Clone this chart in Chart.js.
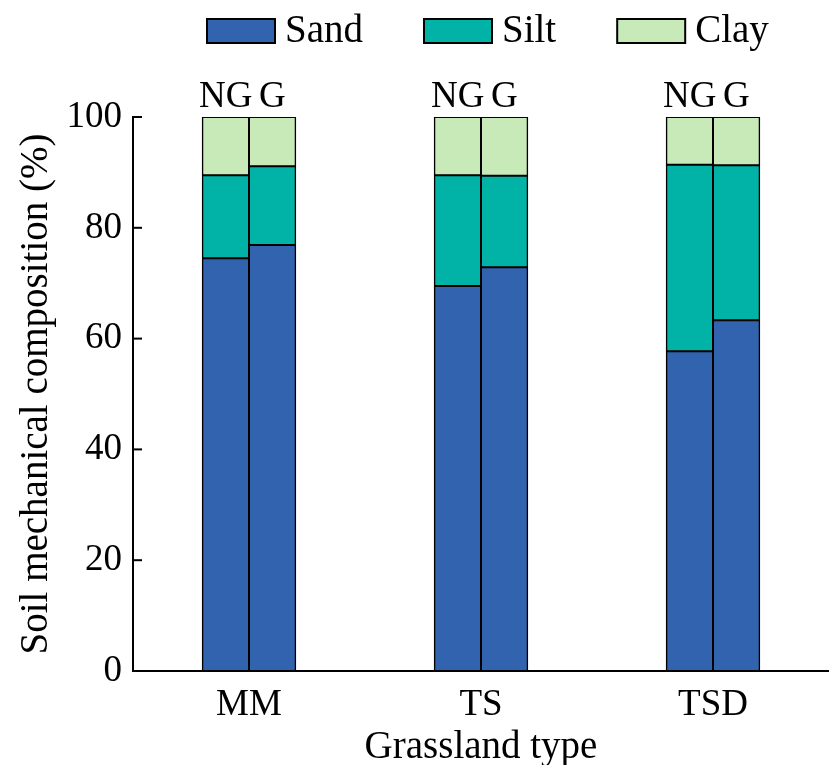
<!DOCTYPE html>
<html>
<head>
<meta charset="utf-8">
<script src="https://cdn.jsdelivr.net/npm/chart.js@4/dist/chart.umd.min.js"></script>
<style>
  html, body { margin: 0; padding: 0; background: #fff; }
  #wrap { width: 829px; height: 765px; position: relative; }
</style>
</head>
<body>
<div id="wrap"><canvas id="soil"></canvas></div>
<script>
// grassland types on the x axis
const grasslandTypes = ["MM", "TS", "TSD"];
// NG = no grazing, G = grazing
const treatments = ["NG", "G"];
const fractions = ["Sand", "Silt", "Clay"];

// percentages
const sandNG = [74.5, 69.5, 57.7];
const siltNG = [15.0, 20.0, 33.7];
const clayNG = [10.5, 10.5, 8.6];

const sandG = [76.9, 72.9, 63.3];
const siltG = [14.2, 16.5, 28.0];
const clayG = [8.9, 10.6, 8.7];

const yTicks = [0, 20, 40, 60, 80, 100];

const fractionColors = ["#3263ae", "#00b3a6", "#c8eab8"];
const FONT = "'Liberation Serif', 'Times New Roman', serif";
const FS = 37;      // tick labels
const FS_BIG = 39;  // titles and legend

const seriesByTreatment = {
    NG: [sandNG, siltNG, clayNG],
    G: [sandG, siltG, clayG],
};

var datasets = [];
treatments.forEach((t) => {
    fractions.forEach((f, i) => {
        datasets.push({
            label: f,
            data: seriesByTreatment[t][i],
            stack: t,
            backgroundColor: fractionColors[i],
            borderColor: "#000",
            borderWidth: 1.5,
            borderSkipped: false,
            inflateAmount: 0.5,
            categoryPercentage: 0.403,
            barPercentage: 1.0,
        });
    });
});

// legend + NG/G labels + inner y ticks
const decorations = {
    id: "decorations",
    afterDraw(chart) {
        const ctx = chart.ctx;
        const y = chart.scales.y;
        const area = chart.chartArea;
        ctx.save();

        // tick marks pointing into the plot
        ctx.strokeStyle = "#000";
        ctx.lineWidth = 2;
        yTicks.forEach((v) => {
            const py = y.getPixelForValue(v);
            ctx.beginPath();
            ctx.moveTo(area.left, py);
            ctx.lineTo(area.left + 9, py);
            ctx.stroke();
        });

        // treatment labels above each stack
        ctx.font = FS + "px " + FONT;
        ctx.fillStyle = "#000";
        ctx.textAlign = "center";
        ctx.textBaseline = "alphabetic";
        chart.data.datasets.forEach((ds, di) => {
            if (ds.label !== "Clay") return;
            const meta = chart.getDatasetMeta(di);
            meta.data.forEach((bar) => {
                ctx.fillText(ds.stack, bar.x, y.getPixelForValue(100) - 10);
            });
        });

        // legend
        ctx.font = FS_BIG + "px " + FONT;
        ctx.textAlign = "left";
        ctx.textBaseline = "middle";
        let lx = 207;
        const ly = 19, bw = 68, bh = 24;
        fractions.forEach((f, i) => {
            ctx.fillStyle = fractionColors[i];
            ctx.fillRect(lx, ly, bw, bh);
            ctx.lineWidth = 2;
            ctx.strokeStyle = "#000";
            ctx.strokeRect(lx, ly, bw, bh);
            ctx.fillStyle = "#000";
            ctx.fillText(f, lx + bw + 10, ly + bh / 2 + 1);
            lx += bw + 10 + ctx.measureText(f).width + 61;
        });
        ctx.restore();
    },
};

new Chart(document.getElementById("soil"), {
    type: "bar",
    data: { labels: grasslandTypes, datasets: datasets },
    options: {
        responsive: true,
        maintainAspectRatio: false,
        animation: false,
        layout: { padding: { top: 117, left: 0, right: 0, bottom: 0 } },
        plugins: {
            legend: { display: false },
            tooltip: { enabled: false },
        },
        scales: {
            x: {
                stacked: true,
                grid: { display: false, drawTicks: false },
                border: { color: "#000", width: 2 },
                ticks: { color: "#000", padding: 12, font: { family: FONT, size: FS } },
                title: {
                    display: true,
                    text: "Grassland type",
                    color: "#000",
                    padding: { top: 0, bottom: 0 },
                    font: { family: FONT, size: FS_BIG, lineHeight: 0.9 },
                },
                afterFit(scale) { scale.height = 94; },
            },
            y: {
                stacked: true,
                min: 0,
                max: 100,
                grid: { display: false, drawTicks: false },
                border: { color: "#000", width: 2 },
                ticks: {
                    stepSize: 20,
                    color: "#000",
                    padding: 11,
                    font: { family: FONT, size: FS },
                },
                title: {
                    display: true,
                    text: "Soil mechanical composition (%)",
                    color: "#000",
                    padding: { top: 13, bottom: 0 },
                    font: { family: FONT, size: FS_BIG },
                },
                afterFit(scale) { scale.width = 133; },
            },
        },
    },
    plugins: [decorations],
});
</script>
</body>
</html>
